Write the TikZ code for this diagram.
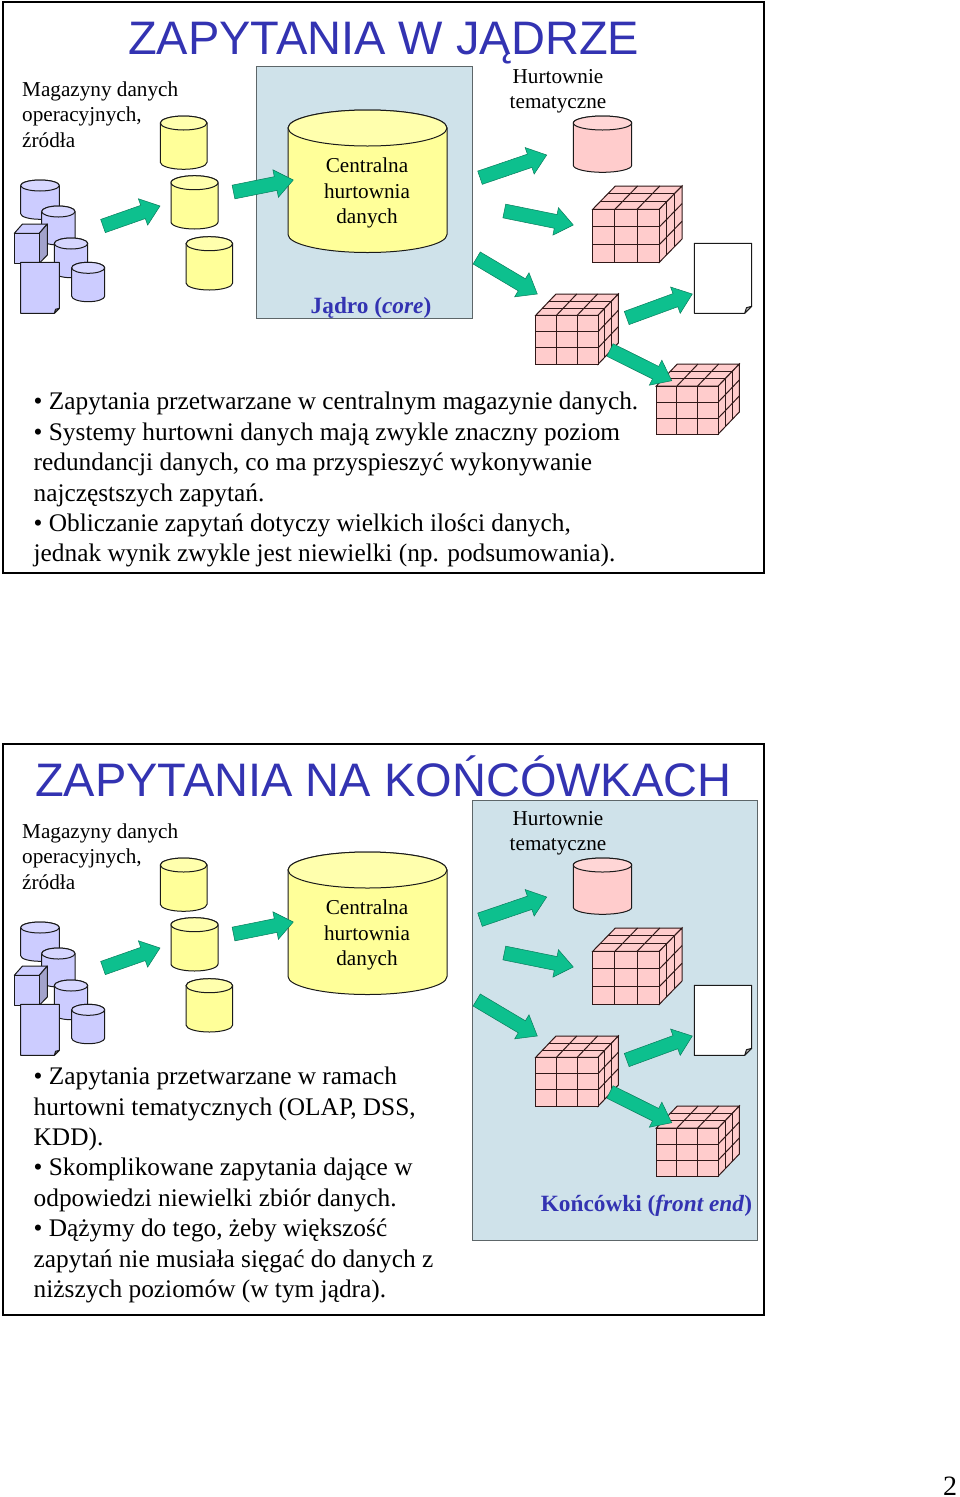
\documentclass[tikz,border=0pt]{standalone}
\usepackage{fontspec}
\setmainfont{Liberation Serif}
\newfontfamily\titlefont{Liberation Sans}
\usetikzlibrary{calc}
\definecolor{tealarrow}{HTML}{0DC08E}
\definecolor{cylyellow}{HTML}{FFFF99}
\definecolor{srcblue}{HTML}{CCCCFF}
\definecolor{srcblueside}{HTML}{A3A3CC}
\definecolor{martpink}{HTML}{FFCCCC}
\definecolor{panelblue}{HTML}{CFE2EA}
\definecolor{headblue}{HTML}{3333B2}
\definecolor{linedark}{HTML}{1A1A1A}
\definecolor{gridbrown}{HTML}{301818}
\tikzset{
  x=1pt,y=-1pt,
  shapeline/.style={draw=linedark,line width=1pt,line join=round},
  gridline/.style={draw=gridbrown,line width=1pt},
  blockarrow/.style={fill=tealarrow,draw=black!35!tealarrow,line width=.5pt,line join=miter},
  panel/.style={draw=black!55!panelblue,line width=.8pt,fill=panelblue},
  frame/.style={draw=black,line width=2pt},
  title/.style={inner sep=0pt,anchor=base west,font=\titlefont\fontsize{47}{50}\selectfont,text=headblue},
  lab/.style={inner sep=0pt,align=center,font=\fontsize{21.2}{25.4}\selectfont},
  labl/.style={inner sep=0pt,anchor=base west,font=\fontsize{21.2}{25}\selectfont},
  bodytext/.style={inner sep=0pt,anchor=base west,font=\fontsize{25.33}{30}\selectfont},
  paneltitle/.style={inner sep=0pt,anchor=base,font=\bfseries\fontsize{23.3}{27}\selectfont,text=headblue},
}
% cylinder: x0,x1,ytop,ybottom,ry,fill
\newcommand\cyl[6]{%
  \pgfmathsetmacro\cw{(#2-#1)/2}\pgfmathsetmacro\cx{(#1+#2)/2}%
  \draw[shapeline,fill=#6] (#1,#3+#5) -- (#1,#4-#5)
     arc[start angle=180,end angle=360,x radius=\cw pt,y radius=#5pt]
     -- (#2,#3+#5) arc[start angle=0,end angle=180,x radius=\cw pt,y radius=#5pt] -- cycle;
  \draw[shapeline,fill=#6!80!white] (\cx,#3+#5) ellipse[x radius=\cw pt,y radius=#5pt];}
% 3x3x3 cube: x0,ytop of front,w,h,dx,dy
\newcommand\gridcube[6]{%
  \begin{scope}[shift={(#1,#2)}]
  \draw[gridline,fill=martpink] (0,0) -- (#3,0) -- (#3+#5,-#6) -- (#5,-#6) -- cycle;
  \draw[gridline,fill=martpink] (#3,0) -- (#3+#5,-#6) -- (#3+#5,#4-#6) -- (#3,#4) -- cycle;
  \draw[gridline,fill=martpink] (0,0) rectangle (#3,#4);
  \foreach \i in {1,2}{
    \draw[gridline] (#3*\i/3,0) -- (#3*\i/3,#4);
    \draw[gridline] (0,#4*\i/3) -- (#3,#4*\i/3);
    \draw[gridline] (#3*\i/3,0) -- (#3*\i/3+#5,-#6);
    \draw[gridline] (#5*\i/3,-#6*\i/3) -- (#3+#5*\i/3,-#6*\i/3);
    \draw[gridline] (#3+#5*\i/3,-#6*\i/3) -- (#3+#5*\i/3,#4-#6*\i/3);
    \draw[gridline] (#3,#4*\i/3) -- (#3+#5,#4*\i/3-#6);
  }
  \end{scope}}
% page: x0,x1,y0,y1,fold,fill
\newcommand\docpage[6]{%
  \draw[shapeline,fill=#6] (#1,#3) -- (#2,#3) -- (#2,#4-#5) -- (#2-#5,#4) -- (#1,#4) -- cycle;
  \draw[shapeline,fill=black!30] (#2,#4-#5) -- (#2-#5*.75,#4-#5*.8) -- (#2-#5,#4) -- cycle;}
% block arrow from coordinate to coordinate
\newcommand\barrow[2]{%
  \draw[blockarrow] ($(#1)!7pt!90:(#2)$)
    -- ($(#1)!1!(#2)!18pt!(#1)!7pt!-90:(#1)$)
    -- ($(#1)!1!(#2)!18pt!(#1)!14pt!-90:(#1)$)
    -- (#2)
    -- ($(#1)!1!(#2)!18pt!(#1)!14pt!90:(#1)$)
    -- ($(#1)!1!(#2)!18pt!(#1)!7pt!90:(#1)$)
    -- ($(#1)!7pt!-90:(#2)$) -- cycle;}
% everything the two slides share; #1 = node name prefix
\newcommand\warehouse[1]{%
  \node[labl] (#1src1) at (22,96) {Magazyny danych};
  \node[labl] (#1src2) at (22,121.5) {operacyjnych,};
  \node[labl] (#1src3) at (22,147) {źródła};
  \node[lab] (#1mart) at (558,91.5) {Hurtownie\\tematyczne};
  \cyl{20.7}{59.3}{180}{219.3}{5.5}{srcblue}
  \cyl{41.7}{75}{206}{245}{5.5}{srcblue}
  \cyl{54.3}{87.7}{238}{277.7}{5.5}{srcblue}
  \draw[shapeline,fill=srcblue] (14.3,233.3) -- (22.5,224) -- (47.3,224) -- (39.3,233.3) -- cycle;
  \draw[shapeline,fill=srcblueside] (39.3,233.3) -- (47.3,224) -- (47.3,255) -- (39.3,263.3) -- cycle;
  \draw[shapeline,fill=srcblue] (14.3,233.3) rectangle (39.3,263.3);
  \cyl{71.7}{104.7}{262.3}{301.7}{5.5}{srcblue}
  \docpage{20.7}{59.3}{262.3}{313.3}{5}{srcblue}
  \cyl{160.3}{207}{116}{169.3}{7}{cylyellow}
  \cyl{171}{218}{175.7}{229}{7}{cylyellow}
  \cyl{186}{232.7}{236.7}{290}{7}{cylyellow}
  \cyl{288}{447}{110}{252.5}{18}{cylyellow}
  \node[lab] (#1core) at (367,193) {Centralna\\hurtownia\\danych};
  \cyl{573.3}{631.7}{116}{172.3}{7}{martpink}
  \gridcube{592.7}{209.3}{66.6}{53}{22.7}{23.3}
  \gridcube{535.7}{315.3}{62.3}{49}{20.3}{21.3}
  \gridcube{656.3}{386}{62}{48}{21}{22}
  \docpage{694.3}{751.7}{243.3}{313.3}{7}{white}
  \coordinate (#1a1) at (103,226); \coordinate (#1b1) at (160,206);
  \coordinate (#1a2) at (233.5,192); \coordinate (#1b2) at (293.3,180);
  \coordinate (#1a3) at (480,177.7); \coordinate (#1b3) at (546.7,155);
  \coordinate (#1a4) at (504.3,211); \coordinate (#1b4) at (573.3,225);
  \coordinate (#1a5) at (476.7,258); \coordinate (#1b5) at (537.3,294);
  \coordinate (#1a6) at (626.7,318); \coordinate (#1b6) at (692.3,294);
  \coordinate (#1a7) at (610,350); \coordinate (#1b7) at (671.7,380.7);
  \foreach \k in {1,...,7}{\barrow{#1a\k}{#1b\k}}
}
\begin{document}
\begin{tikzpicture}
\useasboundingbox (0,0) rectangle (960,1497);
\fill[white] (0,0) rectangle (960,1497);
% first slide
\draw[frame] (2.5,2) rectangle (764,573);
\draw[panel] (256,66) rectangle (472,318);
\node[title] (title1) at (128,54) {ZAPYTANIA W JĄDRZE};
\warehouse{p}
\node[paneltitle] (corelabel) at (371,313) {Jądro (\textit{core})};
\node[bodytext] (p1) at (33.5,409) {• Zapytania przetwarzane w centralnym magazynie danych.};
\node[bodytext] (p2) at (33.5,440) {• Systemy hurtowni danych mają zwykle znaczny poziom};
\node[bodytext] (p3) at (33.5,470) {redundancji danych, co ma przyspieszyć wykonywanie};
\node[bodytext] (p4) at (33.5,501) {najczęstszych zapytań.};
\node[bodytext] (p5) at (33.5,531) {• Obliczanie zapytań dotyczy wielkich ilości danych,};
\node[bodytext] (p6) at (33.5,561) {jednak wynik zwykle jest niewielki (np. podsumowania).};
% second slide
\draw[frame] (2.5,744) rectangle (764,1315);
\draw[panel] (472,800) rectangle (757,1240);
\node[title] (title2) at (35,796) {ZAPYTANIA NA KOŃCÓWKACH};
\begin{scope}[yshift=-742pt]
\warehouse{q}
\end{scope}
\node[paneltitle] (frontlabel) at (646.5,1211) {Końcówki (\textit{front end})};
\node[bodytext] (q1) at (33.5,1084) {• Zapytania przetwarzane w ramach};
\node[bodytext] (q2) at (33.5,1115) {hurtowni tematycznych (OLAP, DSS,};
\node[bodytext] (q3) at (33.5,1145) {KDD).};
\node[bodytext] (q4) at (33.5,1175) {• Skomplikowane zapytania dające w};
\node[bodytext] (q5) at (33.5,1206) {odpowiedzi niewielki zbiór danych.};
\node[bodytext] (q6) at (33.5,1236) {• Dążymy do tego, żeby większość};
\node[bodytext] (q7) at (33.5,1267) {zapytań nie musiała sięgać do danych z};
\node[bodytext] (q8) at (33.5,1297) {niższych poziomów (w tym jądra).};
\node[inner sep=0pt,anchor=base,font=\fontsize{28}{30}\selectfont] (pageno) at (950,1495.5) {2};
\end{tikzpicture}
\end{document}
